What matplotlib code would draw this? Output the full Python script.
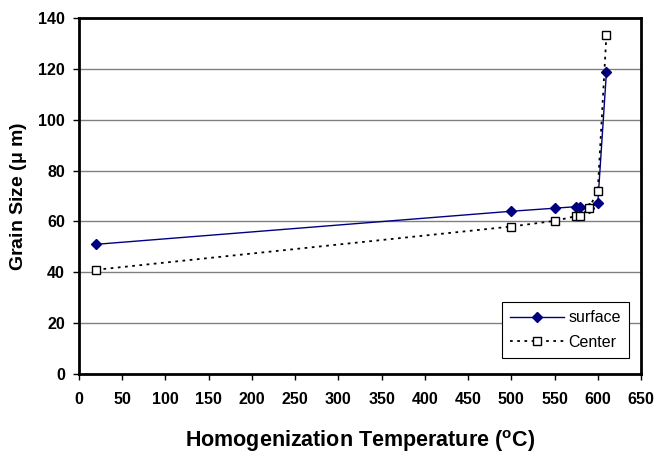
import matplotlib
matplotlib.use("Agg")
from matplotlib import pyplot as plt

plt.rcParams["font.family"] = ["Liberation Sans", "DejaVu Sans"]

# surface measurements
surface_temp = [20, 500, 550, 575, 580, 590, 600, 610]
surface_size = [51, 64, 65.2, 65.8, 65.8, 65.2, 67.1, 118.6]

# center measurements
center_temp = [20, 500, 550, 575, 580, 590, 600, 610]
center_size = [41, 58, 60.2, 62.1, 62.1, 65.2, 72.1, 133.3]

fig = plt.figure(figsize=(6.57, 4.53), dpi=100)
ax = fig.add_axes([79 / 657, 1 - 374 / 453, 562 / 657, 356 / 453])

ax.plot(
    surface_temp, surface_size,
    color="#000080", lw=1.0, marker="D", ms=5,
    markerfacecolor="#000080", markeredgecolor="#000080",
    label="surface", zorder=3,
)
ax.plot(
    center_temp, center_size,
    color="black", lw=1.3, ls=(0, (1.5, 2.5)), marker="s", ms=6,
    markerfacecolor="white", markeredgecolor="black", markeredgewidth=1.0,
    label="Center", zorder=3,
)

ax.set_xlim(0, 650)
ax.set_ylim(0, 140)
ax.set_xticks(range(0, 651, 50))
ax.set_yticks(range(0, 141, 20))
ax.yaxis.grid(True, color="#808080", lw=1.0)
ax.set_axisbelow(True)

for s in ax.spines.values():
    s.set_linewidth(2.0)
ax.tick_params(axis="both", direction="out", length=4, width=1.0, labelsize=11.5)
ax.tick_params(axis="x", pad=9)
ax.tick_params(axis="y", pad=6)
for lbl in ax.get_xticklabels() + ax.get_yticklabels():
    lbl.set_fontweight("bold")

ax.set_xlabel("Homogenization Temperature ($\\mathregular{^{o}}$C)",
              fontsize=15.5, fontweight="bold", labelpad=15)
ax.set_ylabel("Grain Size ($\\mathregular{\\mu}$ m)", fontsize=14,
              fontweight="bold", labelpad=7)

leg = ax.legend(
    loc="lower right", bbox_to_anchor=(0.9786, 0.045), borderaxespad=0,
    fontsize=11.5, frameon=True, fancybox=False, edgecolor="black",
    framealpha=1, handlelength=3.4, borderpad=0.5, labelspacing=0.6,
    handletextpad=0.25,
)
leg.get_frame().set_linewidth(0.8)

fig.savefig("out.png", dpi=100)
